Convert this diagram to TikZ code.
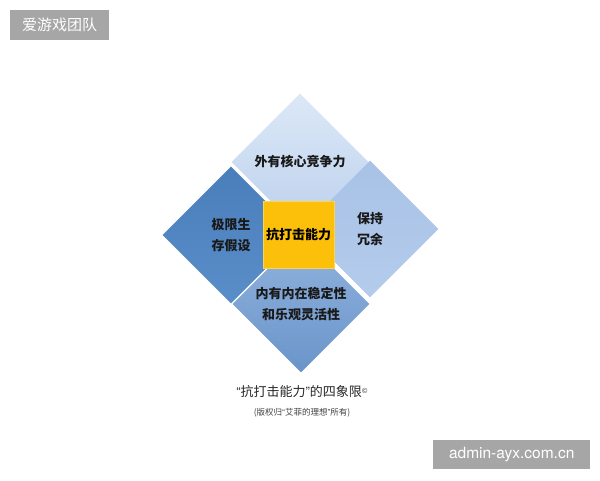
\documentclass[tikz,border=0pt]{standalone}
\usepackage{fontspec}
\newfontfamily\cjk{Noto Sans CJK SC}
\newfontfamily\latin{TeX Gyre Heros}
\usetikzlibrary{shapes.geometric}

\definecolor{topA}{RGB}{220,232,247}
\definecolor{topB}{RGB}{188,209,237}
\definecolor{leftA}{RGB}{74,126,187}
\definecolor{leftB}{RGB}{90,142,201}
\definecolor{rightA}{RGB}{168,194,230}
\definecolor{rightB}{RGB}{180,204,236}
\definecolor{botA}{RGB}{146,180,222}
\definecolor{botB}{RGB}{106,148,202}
\definecolor{core}{RGB}{252,192,10}
\definecolor{tag}{RGB}{166,166,166}

\begin{document}
\begin{tikzpicture}[x=1pt, y=-1pt,
    quad/.style={diamond, aspect=1, inner sep=0pt, minimum width=137pt, minimum height=137pt,
      align=center, font=\cjk\bfseries\fontsize{13}{20.5}\selectfont, text=black!90},
    tagbox/.style={fill=tag, text=white, inner sep=0pt, anchor=north west}]
  \useasboundingbox (0,0) rectangle (600,480);

  % 四象限
  \node[quad, top color=topA, bottom color=topB] (outer) at (300,162) {外有核心竞争力};
  \node[quad, top color=leftA, bottom color=leftB] (limit) at (231,235) {极限生\\存假设};
  \node[quad, top color=rightA, bottom color=rightB] (spare) at (370,229) {保持\\冗余};
  \node[quad, top color=botA, bottom color=botB] (inner) at (301,304) {内有内在稳定性\\和乐观灵活性};

  % 中心
  \node[fill=core, draw=core!70!white, minimum width=71pt, minimum height=67pt, inner sep=0pt,
    font=\cjk\bfseries\fontsize{13}{16}\selectfont] (core) at (298.5,235) {抗打击能力};

  % タイトル
  \node[font=\cjk\fontsize{13}{16}\selectfont, text=black!85] (title) at (302,392)
    {{\latin“}抗打击能力{\latin”}的四象限{\fontsize{7}{7}\selectfont\raisebox{3pt}{©}}};
  \node[font=\cjk\fontsize{8.5}{10}\selectfont, text=black!75] (note) at (302,413)
    {(版权归{\latin“}艾菲的理想{\latin”}所有)};

  % 透かし
  \node[tagbox, minimum width=99pt, minimum height=30pt, font=\cjk\fontsize{15}{18}\selectfont]
    (team) at (10,10) {爱游戏团队};
  \node[tagbox, minimum width=157pt, minimum height=29pt, font=\latin\fontsize{15.5}{18}\selectfont]
    (site) at (433,440) {admin-ayx.com.cn};
\end{tikzpicture}
\end{document}
